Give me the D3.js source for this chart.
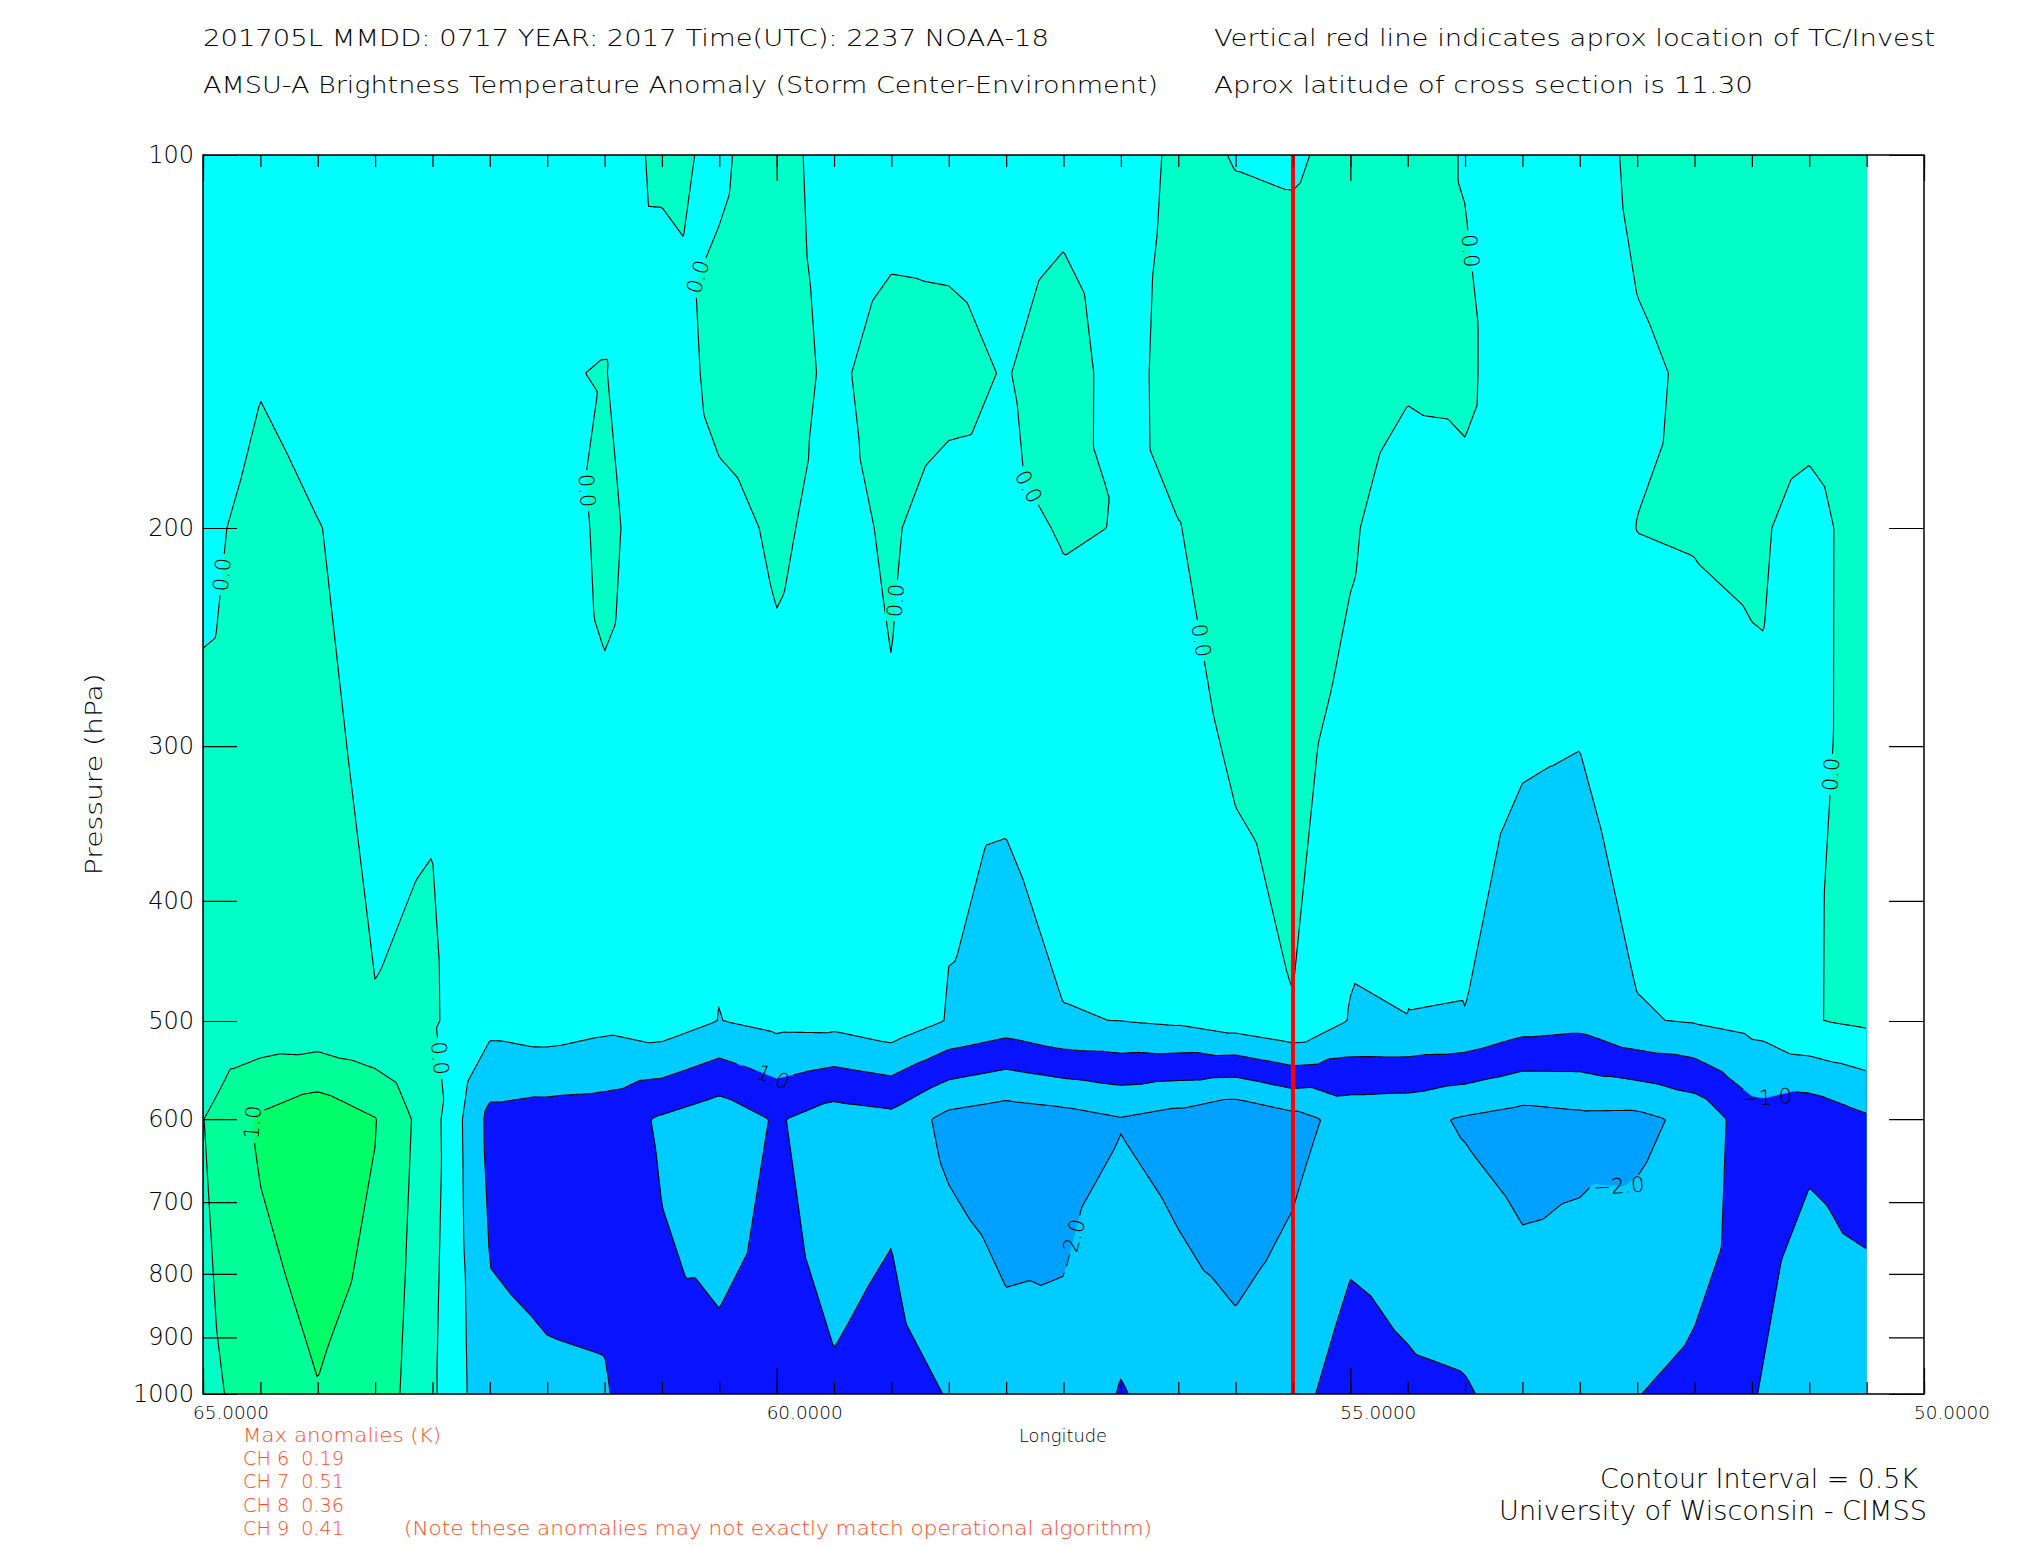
<!DOCTYPE html>
<html>
<head>
<meta charset="utf-8">
<title>AMSU-A Brightness Temperature Anomaly</title>
<script src="https://cdn.jsdelivr.net/npm/d3@7/dist/d3.min.js"></script>
<style>
  html, body { margin: 0; padding: 0; background: #ffffff; }
  svg text { font-family: "DejaVu Sans", "Liberation Sans", sans-serif; font-weight: 200; }
</style>
</head>
<body>
<svg id="chart" width="2025" height="1550"></svg>
<script>
  var longitudes = [65.0, 64.5, 64.0, 63.5, 63.0, 62.5, 62.0, 61.5, 61.0, 60.5,
                    60.0, 59.5, 59.0, 58.5, 58.0, 57.5, 57.0, 56.5, 56.0, 55.5,
                    55.0, 54.5, 54.0, 53.5, 53.0, 52.5, 52.0, 51.5, 51.0, 50.5];
  var pressureLevels = [100, 150, 200, 500, 600, 1000];

  // brightness temperature anomaly (K), one row per pressure level
  var anom100 = [-0.30, -0.30, -0.30, -0.30, -0.30, -0.30, -0.25, -0.30, 0.12, -0.09,
                 0.30, -0.35, -0.30, -0.30, -0.30, -0.30, -0.30, 0.12, -0.02, -0.05,
                 0.12, 0.25, -0.035, -0.25, -0.25, 0.11, 0.20, 0.20, 0.20, 0.20];
  var anom150 = [-0.30, -0.03, -0.15, -0.25, -0.30, -0.30, -0.04, 0.02, -0.38, 0.19,
                 0.25, -0.11, 0.25, 0.20, -0.04, 0.38, -0.34, 0.35, 0.25, 0.26,
                 0.25, 0.10, 0.12, -0.41, -0.25, -0.06, 0.05, 0.20, 0.22, 0.25];
  var anom200 = [-0.10, 0.14, 0.01, -0.11, -0.10, -0.25, -0.35, 0.12, -0.30, -0.16,
                 0.07, -0.14, 0.06, -0.26, -0.11, 0.03, -0.01, -0.02, 0.30, 0.30,
                 0.08, -0.38, -0.17, -0.21, -0.22, 0.005, 0.03, 0.08, -0.15, 0.20];
  var anom500 = [0.31, 0.15, 0.12, 0.01, 0.05, -0.34, -0.24, -0.36, -0.22, -0.51,
                 -0.36, -0.35, -0.17, -0.53, -0.73, -0.52, -0.495, -0.42, -0.23, -0.02,
                 -0.53, -0.505, -0.51, -0.77, -0.84, -0.53, -0.47, -0.34, -0.03, 0.09];
  var anom600 = [0.49, 1.08, 1.34, 1.02, 0.20, -1.14, -1.22, -1.25, -1.56, -1.81,
                 -1.45, -1.75, -1.65, -2.15, -2.30, -2.20, -2.03, -2.20, -2.45, -2.17,
                 -1.82, -1.86, -2.05, -2.20, -2.12, -2.13, -1.87, -1.20, -1.35, -1.07];
  var anom1000 = [0.35, 0.75, 0.98, 0.82, 0.08, -0.88, -0.94, -0.96, -1.37, -1.36,
                  -1.35, -1.45, -1.33, -1.52, -1.81, -1.85, -1.47, -1.70, -1.79, -1.65,
                  -1.27, -1.42, -1.46, -1.68, -1.70, -1.51, -1.38, -1.45, -1.95, -1.98];

  // contour levels (0.5 K interval) and the fill used for each band
  var contourLevels = [-2.5, -2.0, -1.5, -1.0, -0.5, 0.0, 0.5, 1.0];
  var bandColors = ["#00a0ff", "#00ccff", "#0814ff", "#00ccff", "#00ffff", "#00ffc6", "#00ff99", "#00ff66"];

  // where IDL put its contour labels (lon, hPa)
  var labelLevels = [0.0, 0.0, 0.0, 0.0, 0.0, 0.0, 0.0, 0.0, 0.0, 1.0, -1.0, -1.0, -2.0, -2.0];
  var labelLons   = [64.91, 61.55, 60.62, 59.0, 57.65, 56.24, 53.9, 50.9, 62.87, 64.5, 60.11, 51.39, 57.42, 52.66];
  var labelPres   = [218, 186, 126, 229, 182, 246, 119.5, 316, 536, 603, 554, 566, 758, 681];

  var yTickValues = [100, 200, 300, 400, 500, 600, 700, 800, 900, 1000];
  var xTickValues = [65, 60, 55, 50];
  var stormLon = 55.5;

  var channels = ["CH 6", "CH 7", "CH 8", "CH 9"];
  var maxAnoms = [0.19, 0.51, 0.36, 0.41];

  var titleLeft = ["201705L  MMDD: 0717 YEAR: 2017 Time(UTC): 2237 NOAA-18",
                   "AMSU-A Brightness Temperature Anomaly (Storm Center-Environment)"];
  var titleRight = ["Vertical red line indicates aprox location of TC/Invest",
                    "Aprox latitude of cross section is 11.30"];

  // ---- layout ----
  var svg = d3.select("#chart");
  var plotLeft = 203, plotRight = 1924, plotTop = 155, plotBottom = 1394;

  var xScale = d3.scaleLinear().domain([65, 50]).range([plotLeft, plotRight]);
  var yScale = d3.scaleLog().domain([100, 1000]).range([plotTop, plotBottom]);

  var grid = [anom100, anom150, anom200, anom500, anom600, anom1000];
  var nCols = longitudes.length, nRows = pressureLevels.length;

  var colIndex = d3.scaleLinear().domain([longitudes[0], longitudes[nCols - 1]])
    .range([0, nCols - 1]).clamp(true);
  var rowIndex = d3.scaleLinear().domain(pressureLevels.map(Math.log))
    .range(d3.range(nRows)).clamp(true);

  // each grid cell split in 4 triangles around its mean, like IDL does
  function fieldAt(lon, p) {
    var cf = colIndex(lon), rf = rowIndex(Math.log(p));
    var i = Math.min(Math.floor(cf), nCols - 2), j = Math.min(Math.floor(rf), nRows - 2);
    var u = cf - i, t = rf - j;
    var a = grid[j][i], b = grid[j][i + 1], c = grid[j + 1][i], d = grid[j + 1][i + 1];
    var m = (a + b + c + d) / 4;
    if (t <= u && t <= 1 - u) return a + (b - a) * u + (2 * m - a - b) * t;
    if (t >= u && t >= 1 - u) return c + (d - c) * u + (2 * m - c - d) * (1 - t);
    if (u <= t && u <= 1 - t) return a + (c - a) * t + (2 * m - a - c) * u;
    return b + (d - b) * t + (2 * m - b - d) * (1 - u);
  }

  var dataX0 = xScale(longitudes[0]), dataX1 = xScale(longitudes[nCols - 1]);
  var dataY0 = yScale(pressureLevels[0]), dataY1 = yScale(pressureLevels[nRows - 1]);
  var step = 2;
  var nx = Math.round((dataX1 - dataX0) / step) + 1;
  var ny = Math.round((dataY1 - dataY0) / step) + 1;
  var sx = (dataX1 - dataX0) / (nx - 1), sy = (dataY1 - dataY0) / (ny - 1);

  var values = new Array(nx * ny);
  for (var iy = 0; iy < ny; iy++) {
    var p = yScale.invert(dataY0 + iy * sy);
    for (var ix = 0; ix < nx; ix++) {
      values[iy * nx + ix] = fieldAt(xScale.invert(dataX0 + ix * sx), p);
    }
  }

  var bands = d3.contours().size([nx, ny]).thresholds(contourLevels)(values);

  function toX(c) { return Math.max(dataX0, Math.min(dataX1, dataX0 + (c - 0.5) * sx)); }
  function toY(c) { return Math.max(dataY0, Math.min(dataY1, dataY0 + (c - 0.5) * sy)); }

  var gridToScreen = d3.geoTransform({
    point: function(px, py) { this.stream.point(toX(px), toY(py)); }
  });
  var path = d3.geoPath(gridToScreen);

  var defs = svg.append("defs");
  defs.append("clipPath").attr("id", "innerClip")
    .append("rect")
    .attr("x", dataX0 + 0.8).attr("y", dataY0 + 0.8)
    .attr("width", dataX1 - dataX0 - 1.6).attr("height", dataY1 - dataY0 - 1.6);

  var mask = defs.append("mask").attr("id", "labelMask")
    .attr("maskUnits", "userSpaceOnUse")
    .attr("x", 0).attr("y", 0).attr("width", 2025).attr("height", 1550);
  mask.append("rect").attr("width", 2025).attr("height", 1550).attr("fill", "#fff");

  // filled bands
  svg.append("g").selectAll("path")
    .data(bands)
    .join("path")
    .attr("d", path)
    .attr("fill", function(d, i) { return bandColors[i]; })
    .attr("stroke", "none");

  // contour lines
  svg.append("g")
    .attr("clip-path", "url(#innerClip)")
    .append("g")
    .attr("mask", "url(#labelMask)")
    .selectAll("path")
    .data(bands.slice(1))
    .join("path")
    .attr("d", path)
    .attr("fill", "none")
    .attr("stroke", "#000")
    .attr("stroke-width", 1.1);

  // contour labels, snapped to their line
  var labelLayer = svg.append("g");
  labelLevels.forEach(function(level, k) {
    var band = bands.find(function(b) { return Math.abs(b.value - level) < 1e-6; });
    if (!band) return;
    var tx = xScale(labelLons[k]), ty = yScale(labelPres[k]);
    var best = null, bestD = Infinity;
    band.coordinates.forEach(function(poly) {
      poly.forEach(function(ring) {
        var pts = ring.map(function(c) { return [toX(c[0]), toY(c[1])]; });
        pts.forEach(function(pt, i) {
          if (pt[0] <= dataX0 + 1 || pt[0] >= dataX1 - 1 || pt[1] <= dataY0 + 1 || pt[1] >= dataY1 - 1) return;
          var dd = (pt[0] - tx) * (pt[0] - tx) + (pt[1] - ty) * (pt[1] - ty);
          if (dd < bestD) { bestD = dd; best = { pts: pts, i: i }; }
        });
      });
    });
    if (!best) return;
    var n = best.pts.length;
    var p0 = best.pts[(best.i - 6 + n) % n], p1 = best.pts[(best.i + 6) % n];
    var ang = Math.atan2(p1[1] - p0[1], p1[0] - p0[0]) * 180 / Math.PI;
    if (ang > 90) ang -= 180;
    if (ang <= -90) ang += 180;
    var cx = best.pts[best.i][0], cy = best.pts[best.i][1];
    var tr = "translate(" + cx + "," + cy + ") rotate(" + ang + ")";
    var txt = labelLayer.append("text")
      .attr("transform", tr)
      .attr("text-anchor", "middle")
      .attr("dominant-baseline", "central")
      .style("font-size", "21px")
      .attr("fill", "#000")
      .text(d3.format(".1f")(level));
    var w = txt.node().getComputedTextLength() + 8;
    mask.append("rect")
      .attr("transform", tr)
      .attr("x", -w / 2).attr("y", -10)
      .attr("width", w).attr("height", 20)
      .attr("fill", "#000");
  });

  // storm position
  svg.append("line")
    .attr("x1", xScale(stormLon)).attr("x2", xScale(stormLon))
    .attr("y1", plotTop).attr("y2", plotBottom)
    .attr("stroke", "#ff0000").attr("stroke-width", 4);

  // axes
  var minorLons = d3.range(50, 65.001, 0.5);

  function styleAxis(g) {
    g.select(".domain").remove();
    g.selectAll("line").attr("stroke", "#000").attr("stroke-width", 1.2);
  }

  svg.append("g").attr("transform", "translate(0," + plotBottom + ")")
    .call(d3.axisBottom(xScale).tickValues(minorLons).tickSize(-12).tickFormat(""))
    .call(styleAxis);
  svg.append("g").attr("transform", "translate(0," + plotBottom + ")")
    .call(d3.axisBottom(xScale).tickValues(xTickValues).tickSize(-26).tickFormat(""))
    .call(styleAxis);
  svg.append("g").attr("transform", "translate(0," + plotTop + ")")
    .call(d3.axisTop(xScale).tickValues(minorLons).tickSize(-12).tickFormat(""))
    .call(styleAxis);
  svg.append("g").attr("transform", "translate(0," + plotTop + ")")
    .call(d3.axisTop(xScale).tickValues(xTickValues).tickSize(-26).tickFormat(""))
    .call(styleAxis);

  var leftAxis = svg.append("g").attr("transform", "translate(" + plotLeft + ",0)")
    .call(d3.axisLeft(yScale).tickValues(yTickValues).tickSize(-34).tickPadding(9).tickFormat(d3.format("d")))
    .call(styleAxis);
  leftAxis.selectAll("text").style("font-size", "24px").attr("fill", "#000");

  svg.append("g").attr("transform", "translate(" + plotRight + ",0)")
    .call(d3.axisRight(yScale).tickValues(yTickValues).tickSize(-35).tickFormat(""))
    .call(styleAxis);

  svg.append("rect")
    .attr("x", plotLeft).attr("y", plotTop)
    .attr("width", plotRight - plotLeft).attr("height", plotBottom - plotTop)
    .attr("fill", "none").attr("stroke", "#000").attr("stroke-width", 1.5);

  // x tick labels
  svg.append("g").selectAll("text")
    .data(xTickValues)
    .join("text")
    .attr("x", function(d) { return xScale(d) - 10; })
    .attr("y", 1419)
    .attr("textLength", 76).attr("lengthAdjust", "spacingAndGlyphs")
    .style("font-size", "17px")
    .text(d3.format(".4f"));

  svg.append("text")
    .attr("x", 1063).attr("y", 1442)
    .attr("text-anchor", "middle")
    .attr("textLength", 88).attr("lengthAdjust", "spacingAndGlyphs")
    .style("font-size", "17px")
    .text("Longitude");

  svg.append("text")
    .attr("transform", "translate(94," + yScale(300) + ") rotate(-90)")
    .attr("x", -28)
    .attr("text-anchor", "middle")
    .attr("dominant-baseline", "central")
    .attr("textLength", 202).attr("lengthAdjust", "spacingAndGlyphs")
    .style("font-size", "23px")
    .text("Pressure (hPa)");

  // titles
  var titleWidthsLeft = [846, 955], titleWidthsRight = [721, 539];
  var titleBase = [46, 93];
  titleLeft.forEach(function(t, i) {
    svg.append("text").attr("x", 203).attr("y", titleBase[i])
      .attr("textLength", titleWidthsLeft[i]).attr("lengthAdjust", "spacingAndGlyphs")
      .style("font-size", "23px").text(t);
  });
  titleRight.forEach(function(t, i) {
    svg.append("text").attr("x", 1214).attr("y", titleBase[i])
      .attr("textLength", titleWidthsRight[i]).attr("lengthAdjust", "spacingAndGlyphs")
      .style("font-size", "23px").text(t);
  });

  // max anomalies block
  var red = "#ff4a1c";
  svg.append("text").attr("x", 243).attr("y", 1442)
    .attr("fill", red)
    .attr("textLength", 198).attr("lengthAdjust", "spacingAndGlyphs")
    .style("font-size", "19px")
    .text("Max anomalies (K)");
  svg.append("g").selectAll("text")
    .data(channels)
    .join("text")
    .attr("x", 243)
    .attr("y", function(d, i) { return 1465 + i * 23.3; })
    .attr("fill", red)
    .attr("textLength", 101).attr("lengthAdjust", "spacingAndGlyphs")
    .style("font-size", "19px")
    .style("white-space", "pre")
    .text(function(d, i) { return d + "  " + d3.format(".2f")(maxAnoms[i]); });
  svg.append("text").attr("x", 404).attr("y", 1535)
    .attr("fill", red)
    .attr("textLength", 748).attr("lengthAdjust", "spacingAndGlyphs")
    .style("font-size", "19px")
    .text("(Note these anomalies may not exactly match operational algorithm)");

  svg.append("text").attr("x", 1600).attr("y", 1488)
    .attr("textLength", 318).attr("lengthAdjust", "spacingAndGlyphs")
    .style("font-size", "26px")
    .text("Contour Interval = 0.5K");
  svg.append("text").attr("x", 1499).attr("y", 1520)
    .attr("textLength", 428).attr("lengthAdjust", "spacingAndGlyphs")
    .style("font-size", "26px")
    .text("University of Wisconsin - CIMSS");
</script>
</body>
</html>
